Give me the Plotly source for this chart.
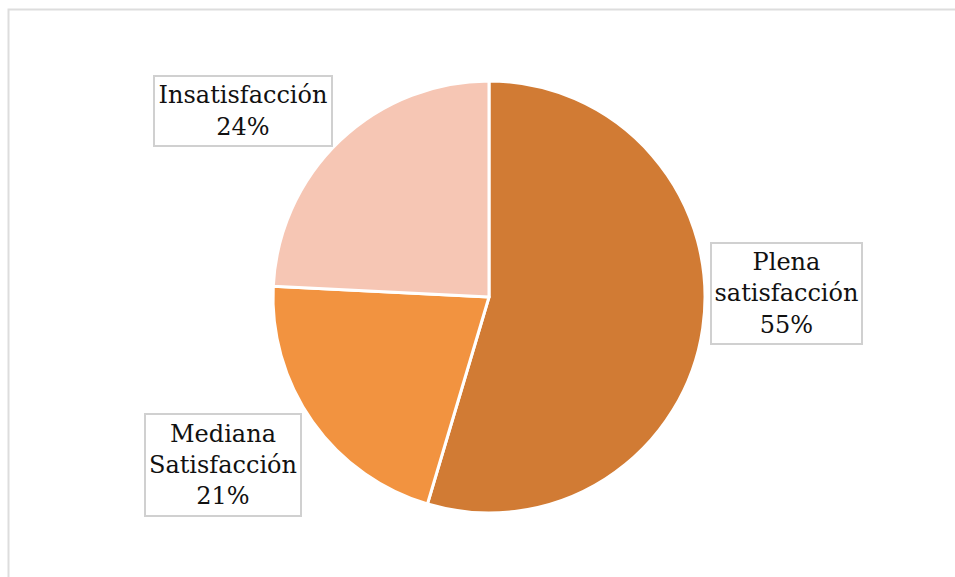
import plotly.graph_objects as go

labels = ["Plena satisfacción", "Mediana Satisfacción", "Insatisfacción"]
label_lines = ["Plena<br>satisfacción", "Mediana<br>Satisfacción", "Insatisfacción"]
values = [54.6, 21.2, 24.2]
colors = ["#D17B34", "#F29340", "#F6C6B4"]

W, H = 955, 577
cx, cy, r = 489, 297, 216

fig = go.Figure(go.Pie(
    labels=labels, values=values, sort=False, direction="clockwise", rotation=0,
    marker=dict(colors=colors, line=dict(color="white", width=3)),
    textinfo="none", hoverinfo="label+percent", showlegend=False,
    domain=dict(x=[(cx - r) / W, (cx + r) / W], y=[(H - cy - r) / H, (H - cy + r) / H]),
))

# label boxes: (center x, center y, width, height) in pixels
boxes = [(786, 293, 153, 103), (223, 465, 158, 104), (243, 111, 180, 72)]
total = sum(values)
for lines, v, (bx, by, bw, bh) in zip(label_lines, values, boxes):
    fig.add_annotation(
        text=f"{lines}<br>{round(100 * v / total)}%",
        x=bx / W, y=1 - by / H, xref="paper", yref="paper",
        xanchor="center", yanchor="middle", showarrow=False,
        width=bw - 4, height=bh - 4, borderpad=0,
        bordercolor="#D0D0D0", borderwidth=2, bgcolor="white",
        font=dict(family="DejaVu Serif", size=24, color="#111111"),
        align="center", valign="middle",
    )

# outer chart frame
fig.add_shape(type="rect", xref="paper", yref="paper",
              x0=8.5 / W, x1=1.05, y0=-0.05, y1=1 - 9.5 / H,
              line=dict(color="#DDDDDD", width=2), fillcolor="rgba(0,0,0,0)")

fig.update_layout(width=W, height=H, margin=dict(l=0, r=0, t=0, b=0),
                  paper_bgcolor="white", plot_bgcolor="white")
fig.write_html("out.html")
